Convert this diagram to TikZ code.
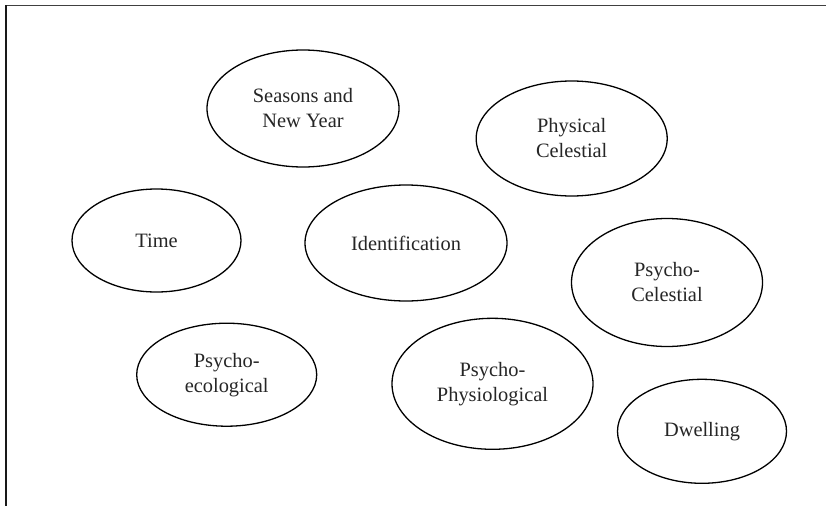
\documentclass[tikz,border=0pt]{standalone}
\usepackage{fontspec}
\setmainfont{Liberation Serif}
\usetikzlibrary{shapes.geometric}
\tikzset{
  bubble/.style={ellipse, draw=black, line width=1.3pt, inner sep=0pt,
    align=center, font=\fontsize{20.4}{25}\selectfont, text=black!85},
  frameline/.style={line width=1.4pt, draw=black!75}
}
\begin{document}
\begin{tikzpicture}[x=1pt, y=-1pt]
  \useasboundingbox (0,0) rectangle (826,506);
  \fill[white] (0,0) rectangle (826,506);
  % frame edges
  \coordinate (tl) at (5.5,5.3);
  \coordinate (tr) at (826,5.3);
  \coordinate (bl) at (5.5,506);
  \draw[frameline] (tl) -- (tr);
  \draw[frameline, line width=2pt, draw=black!90] (tl) -- (bl);
  % concept bubbles
  \node[bubble, minimum width=192pt, minimum height=117pt] (seasons) at (303,108.5) {Seasons and\\New Year};
  \node[bubble, minimum width=191pt, minimum height=115pt] (physical) at (571.7,138.5) {Physical\\Celestial};
  \node[bubble, minimum width=169pt, minimum height=103pt] (time) at (156.5,240.5) {Time};
  \node[bubble, minimum width=202pt, minimum height=116pt] (ident) at (406,243) {Identification};
  \node[bubble, minimum width=191pt, minimum height=128pt] (psycel) at (667,282.5) {Psycho-\\Celestial};
  \node[bubble, minimum width=180pt, minimum height=103pt] (psyeco) at (226.7,374.7) {Psycho-\\ecological};
  \node[bubble, minimum width=201pt, minimum height=131pt] (psyphy) at (492.5,383.8) {Psycho-\\Physiological};
  \node[bubble, minimum width=169pt, minimum height=104pt] (dwell) at (702,431.3) {Dwelling};
\end{tikzpicture}
\end{document}
